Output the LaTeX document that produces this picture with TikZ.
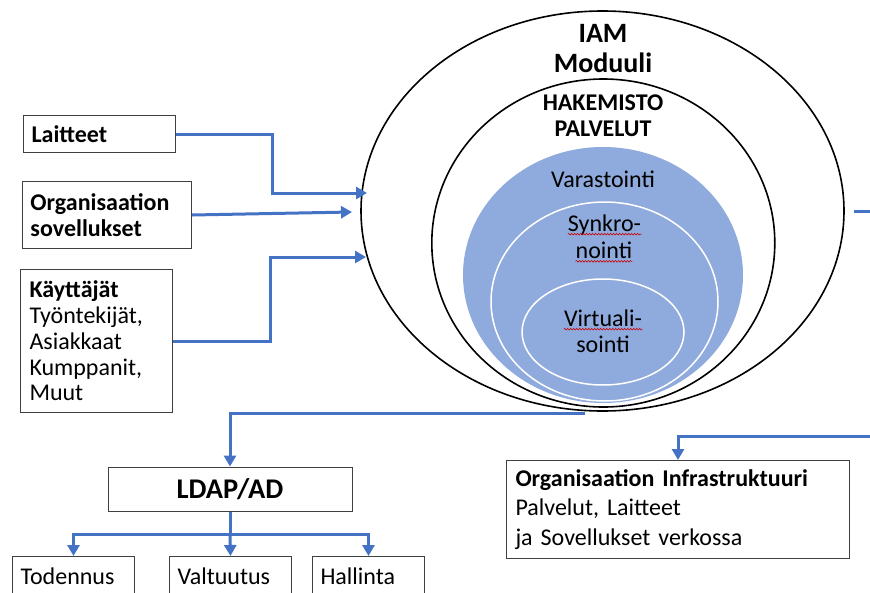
\documentclass[tikz,border=0pt]{standalone}
\usepackage{fontspec}
\setmainfont{Carlito}
\usetikzlibrary{arrows.meta,shapes.geometric,decorations.pathmorphing}
\definecolor{conblue}{HTML}{4472C4}
\definecolor{fillblue}{HTML}{8FAADC}
\definecolor{boxgray}{HTML}{404040}
\begin{document}
\begin{tikzpicture}[x=1pt,y=-1pt,
  conn/.style={draw=conblue,line width=3pt,-{Triangle[length=11pt,width=12pt]}},
  plainline/.style={draw=conblue,line width=3pt},
  box/.style={draw=boxgray,line width=1pt,rectangle,align=left,inner xsep=8pt,inner ysep=0pt,anchor=north west},
  ring/.style={ellipse,draw=black,line width=1.6pt,inner sep=0pt},
  wring/.style={ellipse,draw=white,line width=1.5pt,inner sep=0pt},
  lbl/.style={anchor=base,inner sep=0pt},
  txt/.style={font=\fontsize{24}{25.8}\selectfont},
  squig/.style={draw=red!80!black,line width=0.6pt,decorate,decoration={snake,amplitude=0.8pt,segment length=3pt}}
]
\useasboundingbox (0,0) rectangle (870,592);
\clip (0,0) rectangle (870,592);
\fill[white] (0,0) rectangle (870,592);

% nested ellipses
\node[ring,minimum width=483pt,minimum height=400pt] (iam) at (602.5,211) {};
\node[ring,minimum width=343pt,minimum height=328pt] (hak) at (603.3,243) {};
\node[ellipse,fill=fillblue,inner sep=0pt,minimum width=280pt,minimum height=256pt] (var) at (603,275) {};
\node[wring,minimum width=227pt,minimum height=199pt] (syn) at (604.5,301.5) {};
\node[wring,minimum width=162pt,minimum height=106pt] (vir) at (603,332) {};

% ellipse labels
\node[lbl,font=\fontsize{28}{30}\selectfont\bfseries] (t1) at (603,42) {IAM};
\node[lbl,font=\fontsize{28}{30}\selectfont\bfseries] (t2) at (603,72.7) {Moduuli};
\node[lbl,font=\fontsize{24}{26}\selectfont\bfseries] (t3) at (603,110) {HAKEMISTO};
\node[lbl,font=\fontsize{24}{26}\selectfont\bfseries] (t4) at (603,136) {PALVELUT};
\node[lbl,txt] (t5) at (603,187.3) {Varastointi};
\node[lbl,txt] (t6) at (604.5,231.7) {Synkro-};
\node[lbl,txt] (t7) at (604,258.3) {nointi};
\node[lbl,txt] (t8) at (603,326.7) {Virtuali-};
\node[lbl,txt] (t9) at (603,352.7) {sointi};
\draw[squig] ([yshift=-2.5pt]t6.base west) -- ([yshift=-2.5pt]t6.base east);
\draw[squig] ([yshift=-3pt]t7.base west) -- ([yshift=-3pt]t7.base east);
\draw[squig] ([yshift=-2.5pt]t8.base west) -- ([yshift=-2.5pt]t8.base east);

% left boxes
\node[box,txt,text width=136pt,minimum height=37pt] (lai) at (23,115) {\textbf{Laitteet}};
\node[box,txt,text width=153pt,minimum height=67pt] (org) at (22,181) {\textbf{Organisaation}\\\textbf{sovellukset}};
\node[box,txt,inner xsep=9pt,text width=134pt,minimum height=143pt] (kay) at (20,269) {\textbf{Käyttäjät}\\Työntekijät,\\Asiakkaat\\Kumppanit,\\Muut};

% bottom boxes
\node[draw=boxgray,line width=1pt,rectangle,minimum width=244pt,minimum height=44pt,font=\fontsize{28.5}{30}\selectfont\bfseries] (ldap) at (230,489) {LDAP/AD};
\node[box,txt,text width=106pt,minimum height=40pt] (tod) at (12,556) {Todennus};
\node[box,txt,text width=106pt,minimum height=40pt] (val) at (169,556) {Valtuutus};
\node[box,txt,text width=96pt,minimum height=40pt] (hal) at (312,556) {Hallinta};
\node[box,inner xsep=9pt,text width=325pt,minimum height=98pt,font=\fontsize{24}{29.2}\selectfont] (infra) at (506,460) {\textbf{Organisaation Infrastruktuuri}\\Palvelut, Laitteet\\ja Sovellukset verkossa};

% connectors
\coordinate (bA) at (272,193);
\coordinate (inA) at (367,193);
\coordinate (inB) at (352,212);
\coordinate (bC) at (270,257);
\coordinate (inC) at (366,257);
\draw[conn] (lai.east) -| (bA) -- (inA);
\draw[conn] (org.east) -- (inB);
\draw[conn] (kay.east) -| (bC) -- (inC);

\coordinate (ldOut) at (585,413);
\draw[conn] (ldOut) -| (ldap.north);
\coordinate (split) at (230,534);
\draw[plainline] (ldap.south) -- (split);
\draw[conn] (split) -| (tod.north);
\draw[conn] (split) -- (val.north);
\draw[conn] (split) -| (hal.north);

\coordinate (rOut) at (854,211);
\coordinate (rA) at (890,211);
\coordinate (rB) at (890,436);
\draw[conn] (rOut) -- (rA) -- (rB) -| (infra.north);
\end{tikzpicture}
\end{document}
